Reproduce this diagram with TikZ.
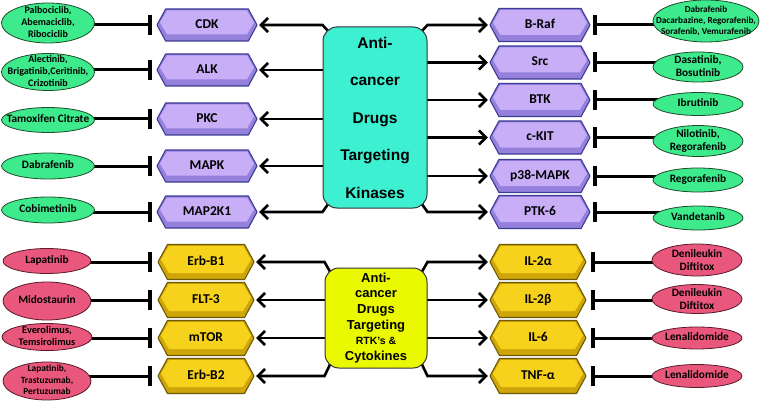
\documentclass[tikz,border=0pt]{standalone}
\usepackage{fontspec}
\newfontfamily\labfont{Carlito}
\newfontfamily\boxfont{Liberation Sans}
\usetikzlibrary{arrows.meta,shapes.geometric}
\pgfdeclarelayer{bg}
\pgfsetlayers{bg,main}
\definecolor{grn}{HTML}{3DEB8C}
\definecolor{grnline}{HTML}{1E4A2A}
\definecolor{redf}{HTML}{E9587C}
\definecolor{redline}{HTML}{5A1A28}
\definecolor{purface}{HTML}{C8AEF7}
\definecolor{purbevel}{HTML}{9580DC}
\definecolor{purline}{HTML}{3C3C96}
\definecolor{yelface}{HTML}{F7D21C}
\definecolor{yelbevel}{HTML}{CFA60A}
\definecolor{yelline}{HTML}{6E5A00}
\definecolor{turq}{HTML}{3DF0D2}
\definecolor{lemon}{HTML}{EBF900}
\newcommand\etx[1]{\makebox[0pt]{\smash{\raisebox{-0.25em}{\begin{tabular}{@{}c@{}}#1\end{tabular}}}}}
\newcommand\hexnode[7]{%
 \pgfmathsetmacro\hxl{#2-#4/2}%
 \pgfmathsetmacro\hxr{#2+#4/2}%
 \pgfmathsetmacro\hyt{#3-#5/2}%
 \pgfmathsetmacro\hyb{#3+#5/2}%
 \pgfmathsetmacro\hdd{#5*0.27}%
 \pgfmathsetmacro\hft{\hyt+1.5}%
 \pgfmathsetmacro\hfb{\hyb-6.5}%
 \pgfmathsetmacro\hfm{(\hft+\hfb)/2}%
 \fill[#6bevel] (\hxl,#3) -- (\hxl+\hdd,\hyt) -- (\hxr-\hdd,\hyt) -- (\hxr,#3) -- (\hxr-\hdd,\hyb) -- (\hxl+\hdd,\hyb) -- cycle;
 \fill[#6face] (\hxl+3,\hfm) -- (\hxl+\hdd+1.5,\hft) -- (\hxr-\hdd-1.5,\hft) -- (\hxr-3,\hfm) -- (\hxr-\hdd-1.5,\hfb) -- (\hxl+\hdd+1.5,\hfb) -- cycle;
 \draw[#6line, line width=1.1pt, line join=round] (\hxl,#3) -- (\hxl+\hdd,\hyt) -- (\hxr-\hdd,\hyt) -- (\hxr,#3) -- (\hxr-\hdd,\hyb) -- (\hxl+\hdd,\hyb) -- cycle;
 \node[hexlab, minimum width=#4, minimum height=#5] (#1) at (#2,#3) {\raisebox{2pt}{#7}};
}
\begin{document}
\begin{tikzpicture}[x=1pt,y=-1pt,
  hexlab/.style={inner sep=0pt, font=\labfont\bfseries\fontsize{13.5}{15}\selectfont},
  gell/.style={ellipse, draw=grnline, fill=grn, line width=0.8pt, inner sep=0pt},
  rell/.style={ellipse, draw=redline, fill=redf, line width=0.8pt, inner sep=0pt},
  fA/.style={font=\labfont\bfseries\fontsize{11.3}{13}\selectfont},
  fB/.style={font=\labfont\bfseries\fontsize{10}{11.7}\selectfont},
  fC/.style={font=\labfont\bfseries\fontsize{9.2}{11}\selectfont},
  karr/.style={line width=2.6pt, -{Straight Barb[length=7pt,width=14pt]}, shorten >=2pt, line join=miter},
  inh/.style={line width=3pt, -{Bar[width=20pt,line width=3.5pt]}},
  cbox/.style={draw=black!80, line width=1pt, rounded corners=14pt, inner sep=0pt, align=center}
]
\useasboundingbox (0,0) rectangle (760,401);
\begin{pgfonlayer}{bg}
\fill[white] (0,0) rectangle (760,401);
\end{pgfonlayer}

% central boxes
\node[cbox, fill=turq, minimum width=104, minimum height=181,
  font=\boxfont\bfseries\fontsize{15.5}{37.5}\selectfont] (K) at (375,117.5)
  {Anti-\\cancer\\Drugs\\Targeting\\Kinases};
\node[cbox, fill=lemon, minimum width=102, minimum height=100,
  font=\boxfont\bfseries\fontsize{13}{15.6}\selectfont] (Y) at (376,318)
  {Anti-\\cancer\\Drugs\\Targeting\\{\fontsize{10.5}{15.6}\selectfont RTK’s \&}\\Cytokines};

% purple hexagons
\hexnode{CDK}{207}{25}{100}{32}{pur}{CDK}
\hexnode{ALK}{207}{70}{100}{32}{pur}{ALK}
\hexnode{PKC}{207}{119}{100}{32}{pur}{PKC}
\hexnode{MAPK}{207}{166}{100}{32}{pur}{MAPK}
\hexnode{MAPtwo}{207}{212}{100}{32}{pur}{MAP2K1}
\hexnode{BRaf}{540}{25}{100}{33}{pur}{B-Raf}
\hexnode{Src}{540}{62.5}{100}{33}{pur}{Src}
\hexnode{BTK}{540}{100}{100}{33}{pur}{BTK}
\hexnode{cKIT}{540}{137.5}{100}{33}{pur}{c-KIT}
\hexnode{pMAPK}{540}{176}{100}{33}{pur}{p38-MAPK}
\hexnode{PTK}{540}{212}{100}{33}{pur}{PTK-6}

% yellow hexagons
\hexnode{ErbA}{206}{262}{96}{35}{yel}{Erb-B1}
\hexnode{FLT}{206}{300}{96}{35}{yel}{FLT-3}
\hexnode{mTOR}{206}{338}{96}{35}{yel}{mTOR}
\hexnode{ErbB}{206}{376}{96}{35}{yel}{Erb-B2}
\hexnode{ILa}{538}{262}{96}{35}{yel}{IL-2α}
\hexnode{ILb}{538}{300}{96}{35}{yel}{IL-2β}
\hexnode{ILsix}{538}{338}{96}{35}{yel}{IL-6}
\hexnode{TNF}{538}{376}{96}{35}{yel}{TNF-α}

% green ellipses left
\node[gell, fB, minimum width=93, minimum height=40] (g1) at (48,23) {\etx{Palbociclib,\\Abemaciclib,\\Ribociclib}};
\node[gell, fB, minimum width=93, minimum height=37] (g2) at (48,72) {\etx{Alectinib,\\Brigatinib,Ceritinib,\\Crizotinib}};
\node[gell, fA, minimum width=93, minimum height=25] (g3) at (48,120) {\etx{Tamoxifen Citrate}};
\node[gell, fA, minimum width=93, minimum height=26] (g4) at (48,166) {\etx{Dabrafenib}};
\node[gell, fA, minimum width=93, minimum height=26] (g5) at (48,210) {\etx{Cobimetinib}};

% green ellipses right
\node[gell, fC, minimum width=106, minimum height=42] (h1) at (706,21) {\etx{Dabrafenib\\Dacarbazine, Regorafenib,\\Sorafenib, Vemurafenib}};
\node[gell, fA, minimum width=90, minimum height=30] (h2) at (698,67) {\etx{Dasatinib,\\Bosutinib}};
\node[gell, fA, minimum width=90, minimum height=23] (h3) at (698,104) {\etx{Ibrutinib}};
\node[gell, fA, minimum width=90, minimum height=31] (h4) at (698,141) {\etx{Nilotinib,\\Regorafenib}};
\node[gell, fA, minimum width=90, minimum height=24] (h5) at (698,180) {\etx{Regorafenib}};
\node[gell, fA, minimum width=90, minimum height=24] (h6) at (698,218) {\etx{Vandetanib}};

% red ellipses left
\node[rell, fA, minimum width=88, minimum height=25] (r1) at (47,261) {\etx{Lapatinib}};
\node[rell, fA, minimum width=88, minimum height=38] (r2) at (47,301) {\etx{Midostaurin}};
\node[rell, font=\labfont\bfseries\fontsize{10.3}{12}\selectfont, minimum width=90, minimum height=27] (r3) at (47,337) {\etx{Everolimus,\\Temsirolimus}};
\node[rell, font=\labfont\bfseries\fontsize{9.4}{11.5}\selectfont, minimum width=88, minimum height=38] (r4) at (47,381) {\etx{Lapatinib,\\Trastuzumab,\\Pertuzumab}};

% red ellipses right
\node[rell, fA, minimum width=90, minimum height=32] (s1) at (697,260) {\raisebox{-3pt}{\etx{Denileukin\\Diftitox}}};
\node[rell, fA, minimum width=90, minimum height=29] (s2) at (697,299) {\raisebox{-3pt}{\etx{Denileukin\\Diftitox}}};
\node[rell, fA, minimum width=90, minimum height=22] (s3) at (697,338) {\etx{Lenalidomide}};
\node[rell, fA, minimum width=90, minimum height=23] (s4) at (697,376) {\etx{Lenalidomide}};

\begin{pgfonlayer}{bg}
% kinase box arrows, left
\draw[karr] ([shift={(6,5)}]K.north west) -- (K.north west |- CDK.east) -- (CDK.east);
\draw[karr] (K.center |- ALK.east) -- (ALK.east);
\draw[karr] (K.center |- PKC.east) -- (PKC.east);
\draw[karr] (K.center |- MAPK.east) -- (MAPK.east);
\draw[karr] ([shift={(6,-5)}]K.south west) -- (K.south west |- MAPtwo.east) -- (MAPtwo.east);
% kinase box arrows, right
\draw[karr] ([shift={(-6,5)}]K.north east) -- (K.north east |- BRaf.west) -- (BRaf.west);
\draw[karr] (K.center |- Src.west) -- (Src.west);
\draw[karr] (K.center |- BTK.west) -- (BTK.west);
\draw[karr] (K.center |- cKIT.west) -- (cKIT.west);
\draw[karr] (K.center |- pMAPK.west) -- (pMAPK.west);
\draw[karr] ([shift={(-6,-5)}]K.south east) -- (K.south east |- PTK.west) -- (PTK.west);
% RTK box arrows
\draw[karr] ([shift={(6,5)}]Y.north west) -- (Y.north west |- ErbA.east) -- (ErbA.east);
\draw[karr] (Y.center |- FLT.east) -- (FLT.east);
\draw[karr] (Y.center |- mTOR.east) -- (mTOR.east);
\draw[karr] ([shift={(6,-5)}]Y.south west) -- (Y.south west |- ErbB.east) -- (ErbB.east);
\draw[karr] ([shift={(-6,5)}]Y.north east) -- (Y.north east |- ILa.west) -- (ILa.west);
\draw[karr] (Y.center |- ILb.west) -- (ILb.west);
\draw[karr] (Y.center |- ILsix.west) -- (ILsix.west);
\draw[karr] ([shift={(-6,-5)}]Y.south east) -- (Y.south east |- TNF.west) -- (TNF.west);
% inhibitors
\draw[inh, shorten >=5pt] (g1.center |- CDK.west) -- (CDK.west);
\draw[inh, shorten >=5pt] (g2.center |- ALK.west) -- (ALK.west);
\draw[inh, shorten >=5pt] (g3.center |- PKC.west) -- (PKC.west);
\draw[inh, shorten >=5pt] (g4.center |- MAPK.west) -- (MAPK.west);
\draw[inh, shorten >=5pt] (g5.center |- MAPtwo.west) -- (MAPtwo.west);
\draw[inh, shorten >=3pt] (h1.center |- BRaf.east) -- (BRaf.east);
\draw[inh, shorten >=3pt] (h2.center |- Src.east) -- (Src.east);
\draw[inh, shorten >=3pt] (h3.center |- BTK.east) -- (BTK.east);
\draw[inh, shorten >=3pt] (h4.center |- cKIT.east) -- (cKIT.east);
\draw[inh, shorten >=3pt] (h5.center |- pMAPK.east) -- (pMAPK.east);
\draw[inh, shorten >=3pt] (h6.center |- PTK.east) -- (PTK.east);
\draw[inh, shorten >=6pt] (r1.center |- ErbA.west) -- (ErbA.west);
\draw[inh, shorten >=6pt] (r2.center |- FLT.west) -- (FLT.west);
\draw[inh, shorten >=6pt] (r3.center |- mTOR.west) -- (mTOR.west);
\draw[inh, shorten >=6pt] (r4.center |- ErbB.west) -- (ErbB.west);
\draw[inh, shorten >=5pt] (s1.center |- ILa.east) -- (ILa.east);
\draw[inh, shorten >=5pt] (s2.center |- ILb.east) -- (ILb.east);
\draw[inh, shorten >=5pt] (s3.center |- ILsix.east) -- (ILsix.east);
\draw[inh, shorten >=5pt] (s4.center |- TNF.east) -- (TNF.east);
\end{pgfonlayer}
\end{tikzpicture}
\end{document}
